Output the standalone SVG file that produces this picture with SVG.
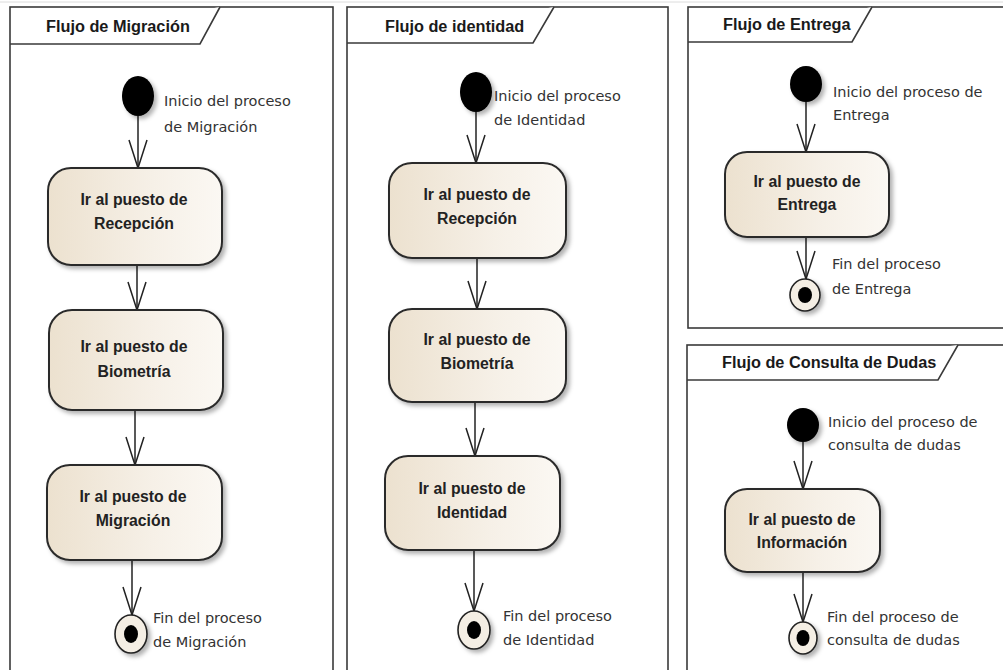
<svg xmlns="http://www.w3.org/2000/svg" width="1003" height="670" viewBox="0 0 1003 670">
<defs>
<style>
.frame{fill:#fff;stroke:#3a3a3a;stroke-width:1.6}
.tab{fill:#fff;stroke:#3a3a3a;stroke-width:1.6}
.title{font-family:"Liberation Sans",Arial,sans-serif;font-weight:bold;font-size:16.3px;fill:#1a1a1a}
.act{fill:url(#actGrad);stroke:#2b2b2b;stroke-width:2;filter:url(#shadow)}
.atxt{font-family:"Liberation Sans",Arial,sans-serif;font-weight:bold;font-size:15.8px;fill:#222;text-anchor:middle}
.lbl{font-family:"DejaVu Sans","Liberation Sans",sans-serif;font-size:14.5px;fill:#333}
.start{fill:#000;filter:url(#shadow)}
.endo{fill:#f4eee4;stroke:#222;stroke-width:1.6;filter:url(#shadow)}
.endi{fill:#000}
.edge{fill:none;stroke:#222;stroke-width:1.5;marker-end:url(#open)}
</style>
<linearGradient id="actGrad" x1="0" y1="0" x2="1" y2="0">
<stop offset="0" stop-color="#ece1cf"/>
<stop offset="0.6" stop-color="#f6f0e7"/>
<stop offset="1" stop-color="#fbf8f3"/>
</linearGradient>
<filter id="shadow" x="-20%" y="-20%" width="150%" height="150%">
<feDropShadow dx="3" dy="3" stdDeviation="2" flood-color="#000" flood-opacity="0.3"/>
</filter>
<marker id="open" markerUnits="userSpaceOnUse" markerWidth="34" markerHeight="22" refX="30" refY="11" orient="auto" viewBox="0 0 34 22">
<path d="M2,2 L30,11 L2,20" fill="none" stroke="#222" stroke-width="1.5"/>
</marker>
</defs>
<rect width="1003" height="670" fill="#fff"/>
<line x1="0" y1="2" x2="1003" y2="2" stroke="#dcdcdc" stroke-width="1"/>

<!-- Frames -->
<g id="frame-migracion">
<rect class="frame" x="10" y="7" width="323" height="670"/>
<path class="tab" d="M10,44 L200,44 L220,7"/>
<text class="title" x="46" y="32">Flujo de Migración</text>
</g>
<g id="frame-identidad">
<rect class="frame" x="347" y="7" width="321" height="670"/>
<path class="tab" d="M347,43 L533,43 L554,7"/>
<text class="title" x="385" y="32">Flujo de identidad</text>
</g>
<g id="frame-entrega">
<rect class="frame" x="688" y="7" width="330" height="321"/>
<path class="tab" d="M688,42 L852,42 L872,7"/>
<text class="title" x="723" y="30">Flujo de Entrega</text>
</g>
<g id="frame-consulta">
<rect class="frame" x="687" y="345" width="330" height="340"/>
<path class="tab" d="M687,380 L938,380 L958,345"/>
<text class="title" x="722" y="368">Flujo de Consulta de Dudas</text>
</g>

<!-- Connectors -->
<g id="connectors">
<line class="edge" x1="138" y1="116" x2="138" y2="168"/>
<line class="edge" x1="137" y1="265" x2="137" y2="310"/>
<line class="edge" x1="135" y1="410" x2="135" y2="465"/>
<line class="edge" x1="132" y1="560" x2="132" y2="615"/>

<line class="edge" x1="476" y1="112" x2="476" y2="163"/>
<line class="edge" x1="477" y1="258" x2="477" y2="309"/>
<line class="edge" x1="475" y1="402" x2="475" y2="456"/>
<line class="edge" x1="474" y1="550" x2="474" y2="611"/>

<line class="edge" x1="806" y1="102" x2="806" y2="152"/>
<line class="edge" x1="806" y1="237" x2="806" y2="279"/>

<line class="edge" x1="803" y1="442" x2="803" y2="489"/>
<line class="edge" x1="803" y1="572" x2="803" y2="622"/>
</g>

<!-- Panel 1 nodes -->
<g id="start-migracion">
<ellipse class="start" cx="138" cy="96" rx="16" ry="20"/>
<text class="lbl" x="164" y="106">Inicio del proceso</text>
<text class="lbl" x="164" y="132">de Migración</text>
</g>
<g id="m-recepcion">
<rect class="act" x="48" y="168" width="174" height="97" rx="23"/>
<text class="atxt" x="134" y="205">Ir al puesto de</text>
<text class="atxt" x="134" y="229">Recepción</text>
</g>
<g id="m-biometria">
<rect class="act" x="49" y="310" width="174" height="100" rx="23"/>
<text class="atxt" x="134" y="352">Ir al puesto de</text>
<text class="atxt" x="134" y="377">Biometría</text>
</g>
<g id="m-migracion">
<rect class="act" x="47" y="465" width="175" height="95" rx="23"/>
<text class="atxt" x="133" y="502">Ir al puesto de</text>
<text class="atxt" x="133" y="526">Migración</text>
</g>
<g id="end-migracion">
<ellipse class="endo" cx="131" cy="634" rx="16" ry="19"/>
<ellipse class="endi" cx="131" cy="634" rx="7" ry="9"/>
<text class="lbl" x="153" y="623">Fin del proceso</text>
<text class="lbl" x="153" y="647">de Migración</text>
</g>

<!-- Panel 2 nodes -->
<g id="start-identidad">
<ellipse class="start" cx="476" cy="92" rx="16" ry="20"/>
<text class="lbl" x="494" y="101">Inicio del proceso</text>
<text class="lbl" x="494" y="125">de Identidad</text>
</g>
<g id="i-recepcion">
<rect class="act" x="389" y="163" width="177" height="95" rx="23"/>
<text class="atxt" x="477" y="200">Ir al puesto de</text>
<text class="atxt" x="477" y="224">Recepción</text>
</g>
<g id="i-biometria">
<rect class="act" x="389" y="309" width="177" height="93" rx="23"/>
<text class="atxt" x="477" y="345">Ir al puesto de</text>
<text class="atxt" x="477" y="369">Biometría</text>
</g>
<g id="i-identidad">
<rect class="act" x="385" y="456" width="175" height="94" rx="23"/>
<text class="atxt" x="472" y="494">Ir al puesto de</text>
<text class="atxt" x="472" y="518">Identidad</text>
</g>
<g id="end-identidad">
<ellipse class="endo" cx="474" cy="630" rx="16" ry="19"/>
<ellipse class="endi" cx="474" cy="630" rx="7" ry="9"/>
<text class="lbl" x="503" y="621">Fin del proceso</text>
<text class="lbl" x="503" y="645">de Identidad</text>
</g>

<!-- Panel 3 nodes -->
<g id="start-entrega">
<ellipse class="start" cx="806" cy="84" rx="16" ry="18"/>
<text class="lbl" x="833" y="97">Inicio del proceso de</text>
<text class="lbl" x="833" y="120">Entrega</text>
</g>
<g id="e-entrega">
<rect class="act" x="725" y="152" width="164" height="85" rx="22"/>
<text class="atxt" x="807" y="187">Ir al puesto de</text>
<text class="atxt" x="807" y="210">Entrega</text>
</g>
<g id="end-entrega">
<ellipse class="endo" cx="805" cy="295" rx="15" ry="16"/>
<ellipse class="endi" cx="805" cy="295" rx="7" ry="8"/>
<text class="lbl" x="832" y="269">Fin del proceso</text>
<text class="lbl" x="832" y="294">de Entrega</text>
</g>

<!-- Panel 4 nodes -->
<g id="start-consulta">
<ellipse class="start" cx="803" cy="425" rx="16" ry="17"/>
<text class="lbl" x="828" y="427">Inicio del proceso de</text>
<text class="lbl" x="828" y="450">consulta de dudas</text>
</g>
<g id="c-informacion">
<rect class="act" x="725" y="489" width="155" height="83" rx="22"/>
<text class="atxt" x="802" y="525">Ir al puesto de</text>
<text class="atxt" x="802" y="548">Información</text>
</g>
<g id="end-consulta">
<ellipse class="endo" cx="803" cy="638" rx="14" ry="16"/>
<ellipse class="endi" cx="803" cy="638" rx="6.5" ry="8"/>
<text class="lbl" x="827" y="622">Fin del proceso de</text>
<text class="lbl" x="827" y="645">consulta de dudas</text>
</g>
</svg>
